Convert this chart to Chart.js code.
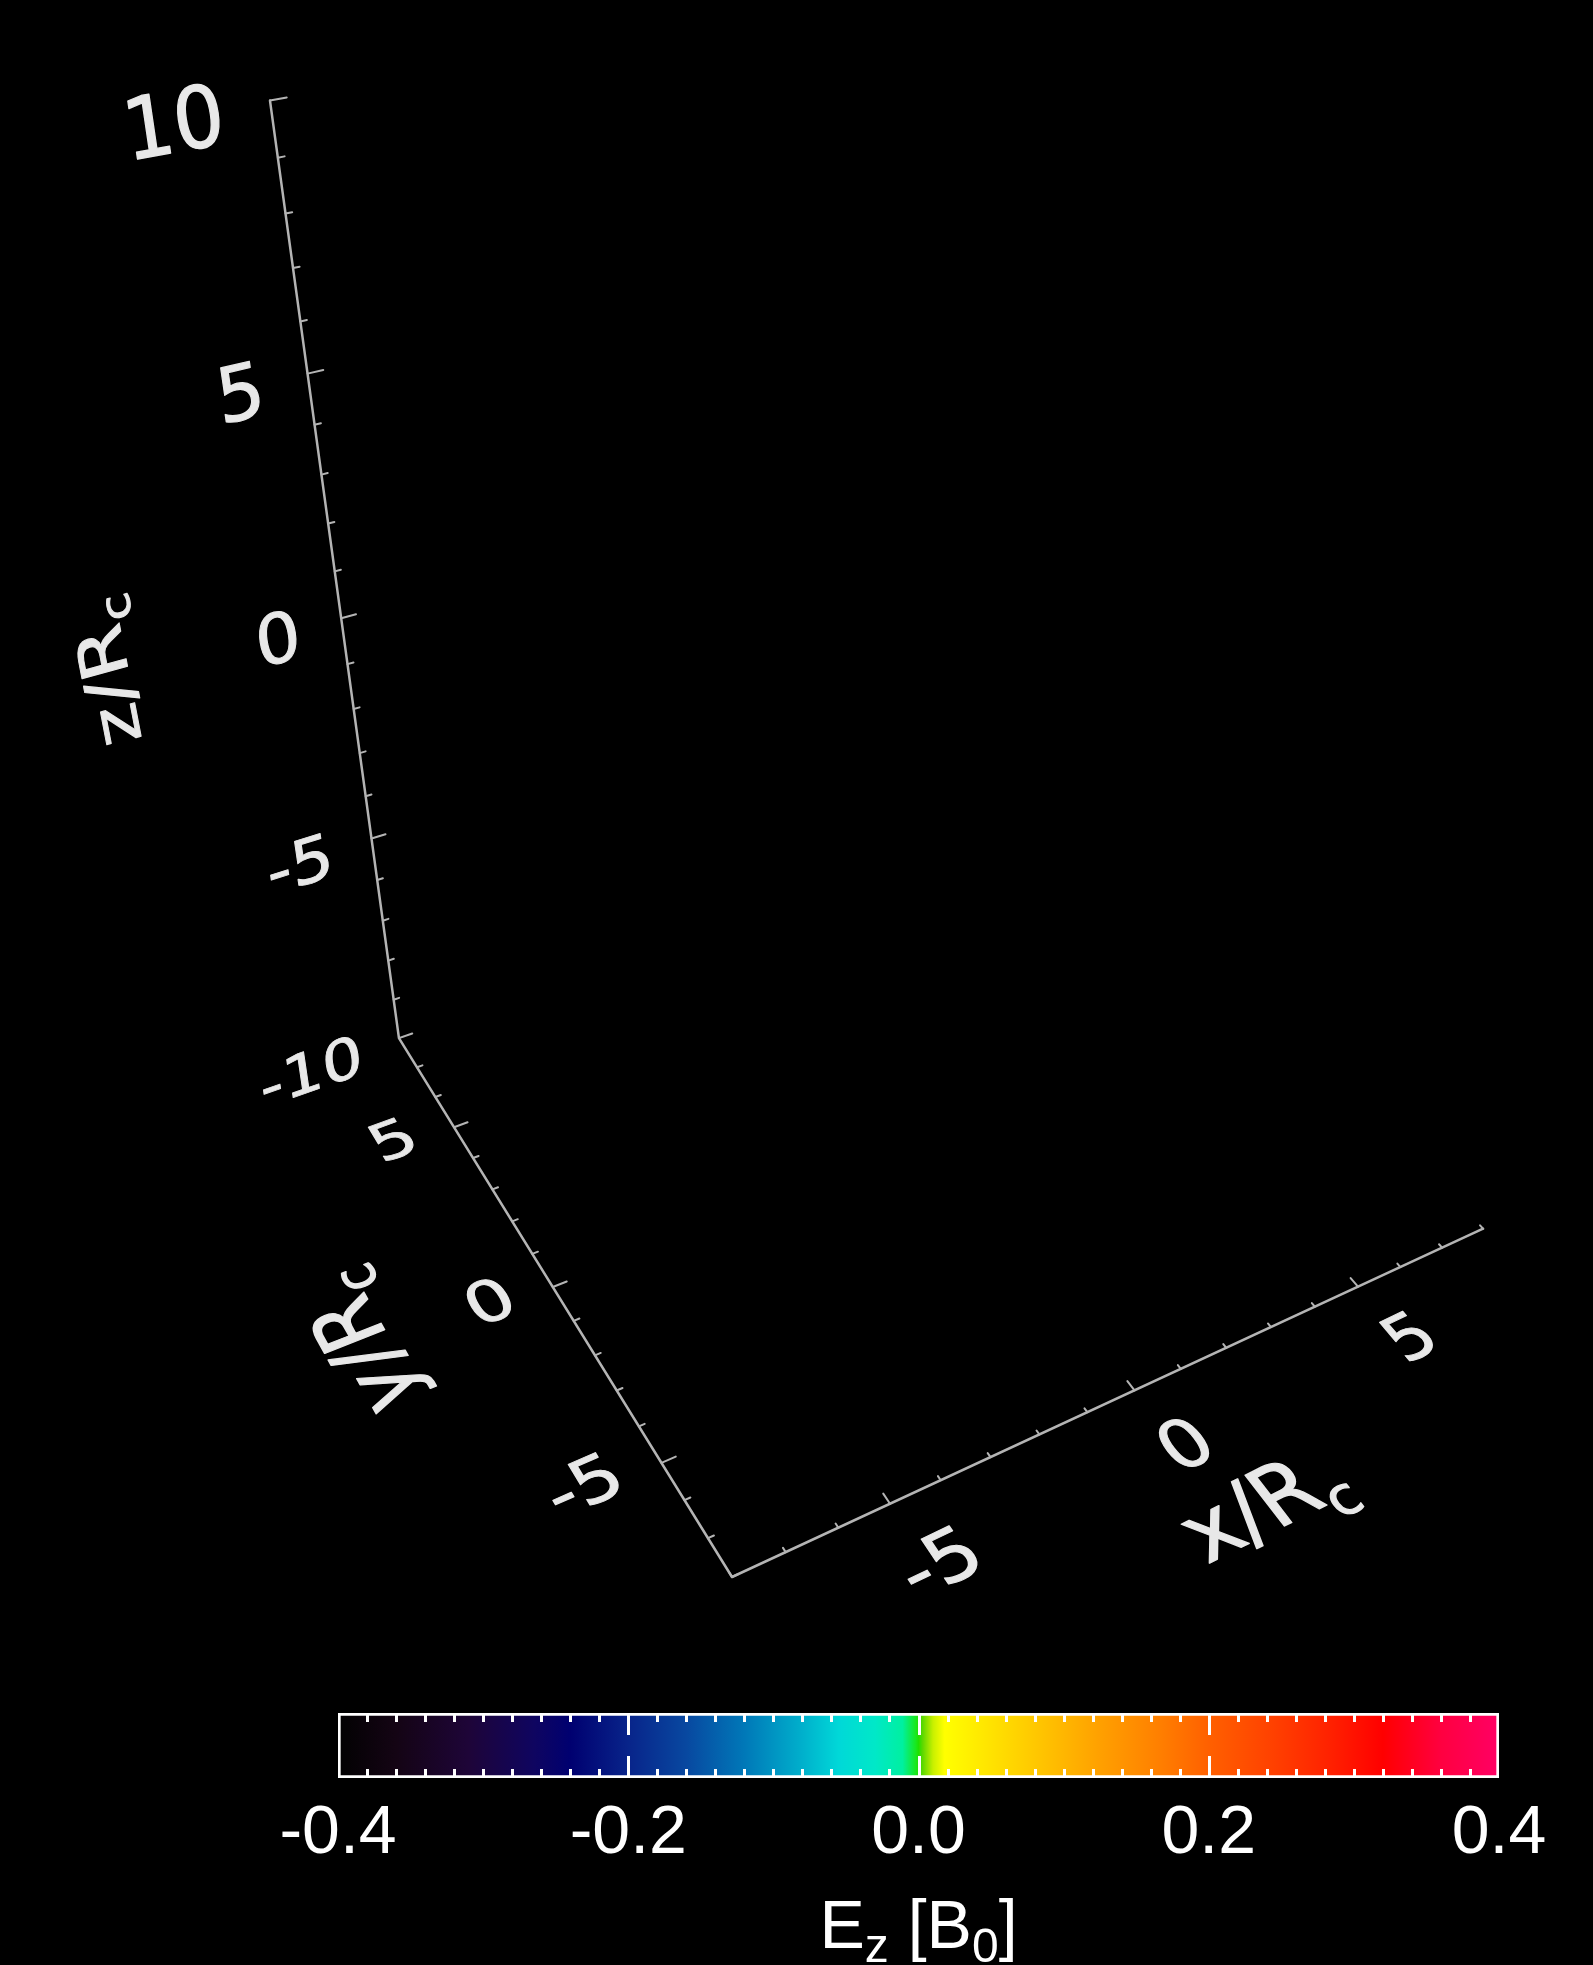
<!DOCTYPE html>
<html>
<head>
<meta charset="utf-8">
<script src="https://cdn.jsdelivr.net/npm/chart.js@4.4.0/dist/chart.umd.min.js"></script>
<style>
    html, body { margin: 0; padding: 0; background: #000; }
    body { width: 1593px; height: 1965px; position: relative; overflow: hidden; }
    #axes3d { position: absolute; left: 0; top: 0; }
    #cbar { position: absolute; left: 0; top: 1713px; }
</style>
</head>
<body>
<canvas id="axes3d" width="1593" height="1713"></canvas>
<canvas id="cbar" width="1593" height="252"></canvas>
<script>
// box extents, in units of R_c
const xRange = [-8, 8];
const yRange = [-8, 8];
const zRange = [-10, 10];
const xTickLabels = [-5, 0, 5];
const yTickLabels = [-5, 0, 5];
const zTickLabels = [-10, -5, 0, 5, 10];
const minorStep = 1;
const majorStep = 5;

// colour table for E_z [B_0]
const cbRange = [-0.4, 0.4];
const cbTickLabels = [-0.4, -0.2, 0.0, 0.2, 0.4];
const cbMinorStep = 0.02;
const cbMajorStep = 0.2;
const cbStops = [-0.4, -0.36, -0.31, -0.265, -0.24, -0.2, -0.16, -0.12, -0.08, -0.055, -0.03, -0.011,
    -0.002, 0.0, 0.003, 0.01, 0.018, 0.08, 0.125, 0.165, 0.2, 0.245, 0.285, 0.32, 0.36, 0.4];
const cbColors = ['#020202', '#140414', '#1e0538', '#0f0560', '#000070', '#08248a', '#0848a0', '#0078b8',
    '#00b0cc', '#00d8d8', '#00e8c8', '#00f0a0', '#18e820', '#20e000', '#60d800', '#c8f000', '#ffff00',
    '#ffc800', '#ffa000', '#ff8000', '#ff6000', '#ff4000', '#ff2000', '#ff0000', '#ff0040', '#ff0064'];

// perspective camera (screen px), box corner (xmin, ymin, zmin) as origin
const cam = {
    ox: 732, oy: 1577,
    sx: [61.27, -16.71, -10.48],
    sy: [-9.9, -23.0, -55.7],
    w: [0.00966, 0.01029, -0.011]
};

function project(x, y, z) {
    const u = x - xRange[0], v = y - yRange[0], s = z - zRange[0];
    const w = 1 + cam.w[0] * u + cam.w[1] * v + cam.w[2] * s;
    return {
        x: (cam.ox + cam.sx[0] * u + cam.sx[1] * v + cam.sx[2] * s) / w,
        y: (cam.oy + cam.sy[0] * u + cam.sy[1] * v + cam.sy[2] * s) / w
    };
}

const [x0, x1] = xRange, [y0, y1] = yRange, [z0, z1] = zRange;
const GAP = { x: NaN, y: NaN };

// the three box edges that carry the axes
const axisPts = [project(x0, y1, z1), project(x0, y1, z0), project(x0, y0, z0), project(x1, y0, z0)];

const tickLen = v => (Math.abs(v % majorStep) < 1e-9 ? 0.27 : 0.11);
const tickPts = [];
for (let z = z0; z <= z1; z += minorStep) tickPts.push(project(x0, y1, z), project(x0 + tickLen(z), y1, z), GAP);
for (let y = y0; y <= y1; y += minorStep) tickPts.push(project(x0, y, z0), project(x0 + tickLen(y), y, z0), GAP);
for (let x = x0; x <= x1; x += minorStep) tickPts.push(project(x, y0, z0), project(x, y0 + tickLen(x), z0), GAP);

// text lying in a plane of the box: along = baseline direction, up = glyph up direction
function text3d(chart, parts, pos, along, up, size, align) {
    const ctx = chart.ctx, sx = chart.scales.x, sy = chart.scales.y;
    const pix = p => {
        const q = project(p[0], p[1], p[2]);
        return { x: sx.getPixelForValue(q.x), y: sy.getPixelForValue(q.y) };
    };
    const e = 0.01;
    const p0 = pix(pos);
    const pa = pix(pos.map((c, i) => c + along[i] * e));
    const pu = pix(pos.map((c, i) => c + up[i] * e));
    const a = { x: (pa.x - p0.x) / e, y: (pa.y - p0.y) / e };
    const b = { x: (pu.x - p0.x) / e, y: (pu.y - p0.y) / e };
    const k = 0.01;
    ctx.save();
    ctx.setTransform(a.x * size[0] * k, a.y * size[0] * k, -b.x * size[1] * k, -b.y * size[1] * k, p0.x, p0.y);
    ctx.fillStyle = '#e8e8e8';
    ctx.strokeStyle = '#e8e8e8';
    ctx.lineWidth = 1.5;
    ctx.lineJoin = 'round';
    ctx.textBaseline = 'alphabetic';
    ctx.textAlign = 'left';
    const fontFor = p => (p.sub ? '64px "DejaVu Sans"' : '100px "DejaVu Sans"');
    let total = 0;
    parts.forEach(p => { ctx.font = fontFor(p); total += ctx.measureText(p.t).width; });
    let cx = align === 'right' ? -total : align === 'center' ? -total / 2 : 0;
    parts.forEach(p => {
        ctx.font = fontFor(p);
        const ty = 36 + (p.sub ? 22 : 0);
        ctx.fillText(p.t, cx, ty);
        ctx.strokeText(p.t, cx, ty);
        cx += ctx.measureText(p.t).width;
    });
    ctx.restore();
}

const X = [1, 0, 0], Y = [0, 1, 0], Z = [0, 0, 1], mX = [-1, 0, 0];

const axisText = {
    id: 'axisText',
    afterDatasetsDraw(chart) {
        zTickLabels.forEach(z => text3d(chart, [{ t: String(z) }], [x0 - 0.75, y1, z - 0.05], X, Z, [1.25, 1.45], 'right'));
        yTickLabels.forEach(y => text3d(chart, [{ t: String(y) }], [x0 - 0.7, y + 0.28, z0], X, Y, [1.3, 1.5], 'right'));
        xTickLabels.forEach(x => text3d(chart, [{ t: String(x) }], [x + 0.15, y0 - 1.6, z0], X, Y, [1.4, 1.6], 'center'));
        text3d(chart, [{ t: 'z/R' }, { t: 'c', sub: true }], [x0 - 4.1, y1, 0.2], Z, mX, [1.6, 1.05], 'center');
        text3d(chart, [{ t: 'y/R' }, { t: 'c', sub: true }], [x0 - 3.5, 0.5, z0], Y, mX, [1.9, 1.5], 'center');
        text3d(chart, [{ t: 'x/R' }, { t: 'c', sub: true }], [0.65, y0 - 3.55, z0], X, Y, [1.6, 1.9], 'center');
    }
};

const lineStyle = { showLine: true, borderColor: '#b4b4b4', pointRadius: 0, tension: 0, spanGaps: false, borderCapStyle: 'round', borderJoinStyle: 'round' };

new Chart(document.getElementById('axes3d'), {
    type: 'scatter',
    data: {
        datasets: [
            { ...lineStyle, data: axisPts, borderWidth: 2.5 },
            { ...lineStyle, data: tickPts, borderWidth: 2 }
        ]
    },
    options: {
        responsive: false, animation: false, events: [],
        layout: { padding: 0 },
        plugins: { legend: { display: false }, tooltip: { enabled: false } },
        scales: {
            x: { type: 'linear', min: 0, max: 1593, display: false },
            y: { type: 'linear', min: 0, max: 1713, reverse: true, display: false }
        }
    },
    plugins: [axisText]
});

// colour bar
const cbDecor = {
    id: 'cbDecor',
    afterDatasetsDraw(chart) {
        const ctx = chart.ctx, xs = chart.scales.x, area = chart.chartArea;
        ctx.save();
        ctx.strokeStyle = '#fff';
        ctx.lineWidth = 3;
        const n = Math.round((cbRange[1] - cbRange[0]) / cbMinorStep);
        for (let i = 1; i < n; i++) {
            const v = cbRange[0] + i * cbMinorStep;
            const r = v / cbMajorStep;
            const len = Math.abs(r - Math.round(r)) < 1e-6 ? 20 : 7;
            const px = Math.round(xs.getPixelForValue(v)) + 0.5;
            ctx.beginPath();
            ctx.moveTo(px, area.top + 2); ctx.lineTo(px, area.top + 2 + len);
            ctx.moveTo(px, area.bottom - 2); ctx.lineTo(px, area.bottom - 2 - len);
            ctx.stroke();
        }
        ctx.fillStyle = '#fff';
        ctx.font = '68px "Liberation Sans"';
        ctx.textAlign = 'center';
        ctx.textBaseline = 'alphabetic';
        cbTickLabels.forEach(v => ctx.fillText(v.toFixed(1), xs.getPixelForValue(v), area.bottom + 75));

        const parts = [{ t: 'E' }, { t: 'z', sub: true }, { t: ' [B' }, { t: '0', sub: true }, { t: ']' }];
        const fontFor = p => (p.sub ? '48px "Liberation Sans"' : '68px "Liberation Sans"');
        ctx.textAlign = 'left';
        let total = 0;
        parts.forEach(p => { ctx.font = fontFor(p); total += ctx.measureText(p.t).width; });
        let cx = xs.getPixelForValue((cbRange[0] + cbRange[1]) / 2) - total / 2;
        parts.forEach(p => {
            ctx.font = fontFor(p);
            ctx.fillText(p.t, cx, area.bottom + 170 + (p.sub ? 14 : 0));
            cx += ctx.measureText(p.t).width;
        });
        ctx.restore();
    }
};

new Chart(document.getElementById('cbar'), {
    type: 'bar',
    data: {
        labels: ['Ez'],
        datasets: [{
            data: [[cbRange[0], cbRange[1]]],
            backgroundColor: (c) => {
                const area = c.chart.chartArea;
                if (!area) return '#000';
                const g = c.chart.ctx.createLinearGradient(area.left, 0, area.right, 0);
                cbStops.forEach((v, i) => g.addColorStop((v - cbRange[0]) / (cbRange[1] - cbRange[0]), cbColors[i]));
                return g;
            },
            borderColor: '#fff',
            borderWidth: 3,
            borderSkipped: false,
            barPercentage: 1,
            categoryPercentage: 1
        }]
    },
    options: {
        indexAxis: 'y', responsive: false, animation: false, events: [],
        layout: { padding: { left: 338, right: 94, top: 0, bottom: 187 } },
        plugins: { legend: { display: false }, tooltip: { enabled: false } },
        scales: {
            x: { type: 'linear', min: cbRange[0], max: cbRange[1], display: false },
            y: { display: false }
        }
    },
    plugins: [cbDecor]
});
</script>
</body>
</html>
